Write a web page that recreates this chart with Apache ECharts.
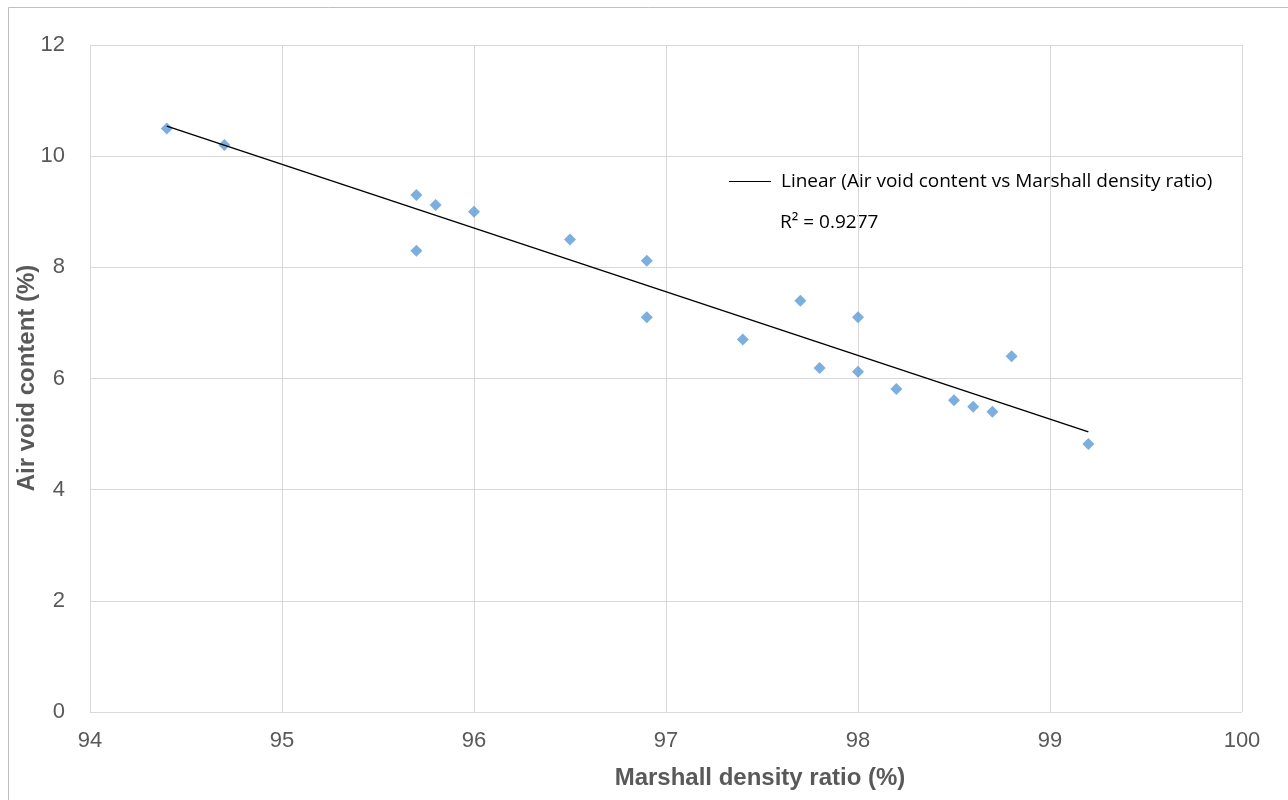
<!DOCTYPE html>
<html><head><meta charset="utf-8">
<script src="https://cdn.jsdelivr.net/npm/echarts@6/dist/echarts.min.js"></script>
<style>html,body{margin:0;padding:0;background:#fff}#c{width:1288px;height:800px}</style>
</head><body><div id="c"></div>
<script>
const densityRatio = [94.4, 94.7, 95.7, 95.8, 96.0, 95.7, 96.5, 96.9, 96.9, 97.4, 97.7, 98.0, 97.8, 98.0, 98.2, 98.5, 98.6, 98.7, 98.8, 99.2];
const airVoid      = [10.5, 10.2, 9.3, 9.12, 9.0, 8.3, 8.5, 8.12, 7.1, 6.7, 7.4, 7.1, 6.19, 6.12, 5.81, 5.61, 5.49, 5.4, 6.4, 4.82];
const trendX = [94.4, 99.2];
const trendY = [10.54, 5.04];
const trendName = 'Linear (Air void content vs Marshall density ratio)';
const r2Label = 'R² = 0.9277';
const xTitle = 'Marshall density ratio (%)';
const yTitle = 'Air void content (%)';

const chart = echarts.init(document.getElementById('c'), null, {renderer:'canvas'});
const tickFont = {color:'#595959', fontSize:22, fontFamily:'"Liberation Sans", Arial, sans-serif'};
const legFont = '"Open Sans", "Liberation Sans", sans-serif';
chart.setOption({
  animation:false,
  grid:{left:90, right:46, top:45, bottom:88, containLabel:false},
  xAxis:{type:'value', min:94, max:100, interval:1,
    axisLine:{show:false}, axisTick:{show:false},
    splitLine:{show:true, lineStyle:{color:'#d9d9d9', width:1}},
    axisLabel:Object.assign({margin:18}, tickFont)},
  yAxis:{type:'value', min:0, max:12, interval:2,
    axisLine:{show:false}, axisTick:{show:false},
    splitLine:{show:true, lineStyle:{color:'#d9d9d9', width:1}},
    axisLabel:Object.assign({margin:25}, tickFont)},
  legend:{show:true, left:724, top:167, itemWidth:42, itemHeight:24, itemGap:0,
    data:[{name:trendName, icon:'path://M0,11.5L42,11.5L42,12.5L0,12.5Z'}],
    textStyle:{color:'#000', fontSize:19, fontFamily:legFont, padding:[0,0,0,5]}},
  series:[
    {type:'scatter', name:'data', symbol:'diamond', symbolSize:[12,12],
      itemStyle:{color:'#5b9bd5'},
      data:densityRatio.map((x,i)=>[x, airVoid[i]]), z:3},
    {type:'line', name:trendName, symbol:'none', showSymbol:false,
      lineStyle:{color:'#000', width:1.5},
      itemStyle:{color:'#000'},
      data:trendX.map((x,i)=>[x, trendY[i]]), z:4}
  ],
  graphic:[
    {type:'rect', shape:{x:8.5, y:7.5, width:1300, height:800}, style:{fill:'none', stroke:'#bfbfbf', lineWidth:1}},
    {type:'text', left:780, top:213, style:{text:r2Label, fill:'#000', fontSize:19, fontFamily:legFont}},
    {type:'text', x:760, y:778, style:{text:xTitle, fill:'#595959', fontSize:24, fontWeight:'bold', align:'center', verticalAlign:'middle', fontFamily:'"Liberation Sans", Arial, sans-serif'}},
    {type:'text', x:27, y:378, rotation:Math.PI/2, style:{text:yTitle, fill:'#595959', fontSize:24, fontWeight:'bold', align:'center', verticalAlign:'middle', fontFamily:'"Liberation Sans", Arial, sans-serif'}}
  ]
});
</script></body></html>
